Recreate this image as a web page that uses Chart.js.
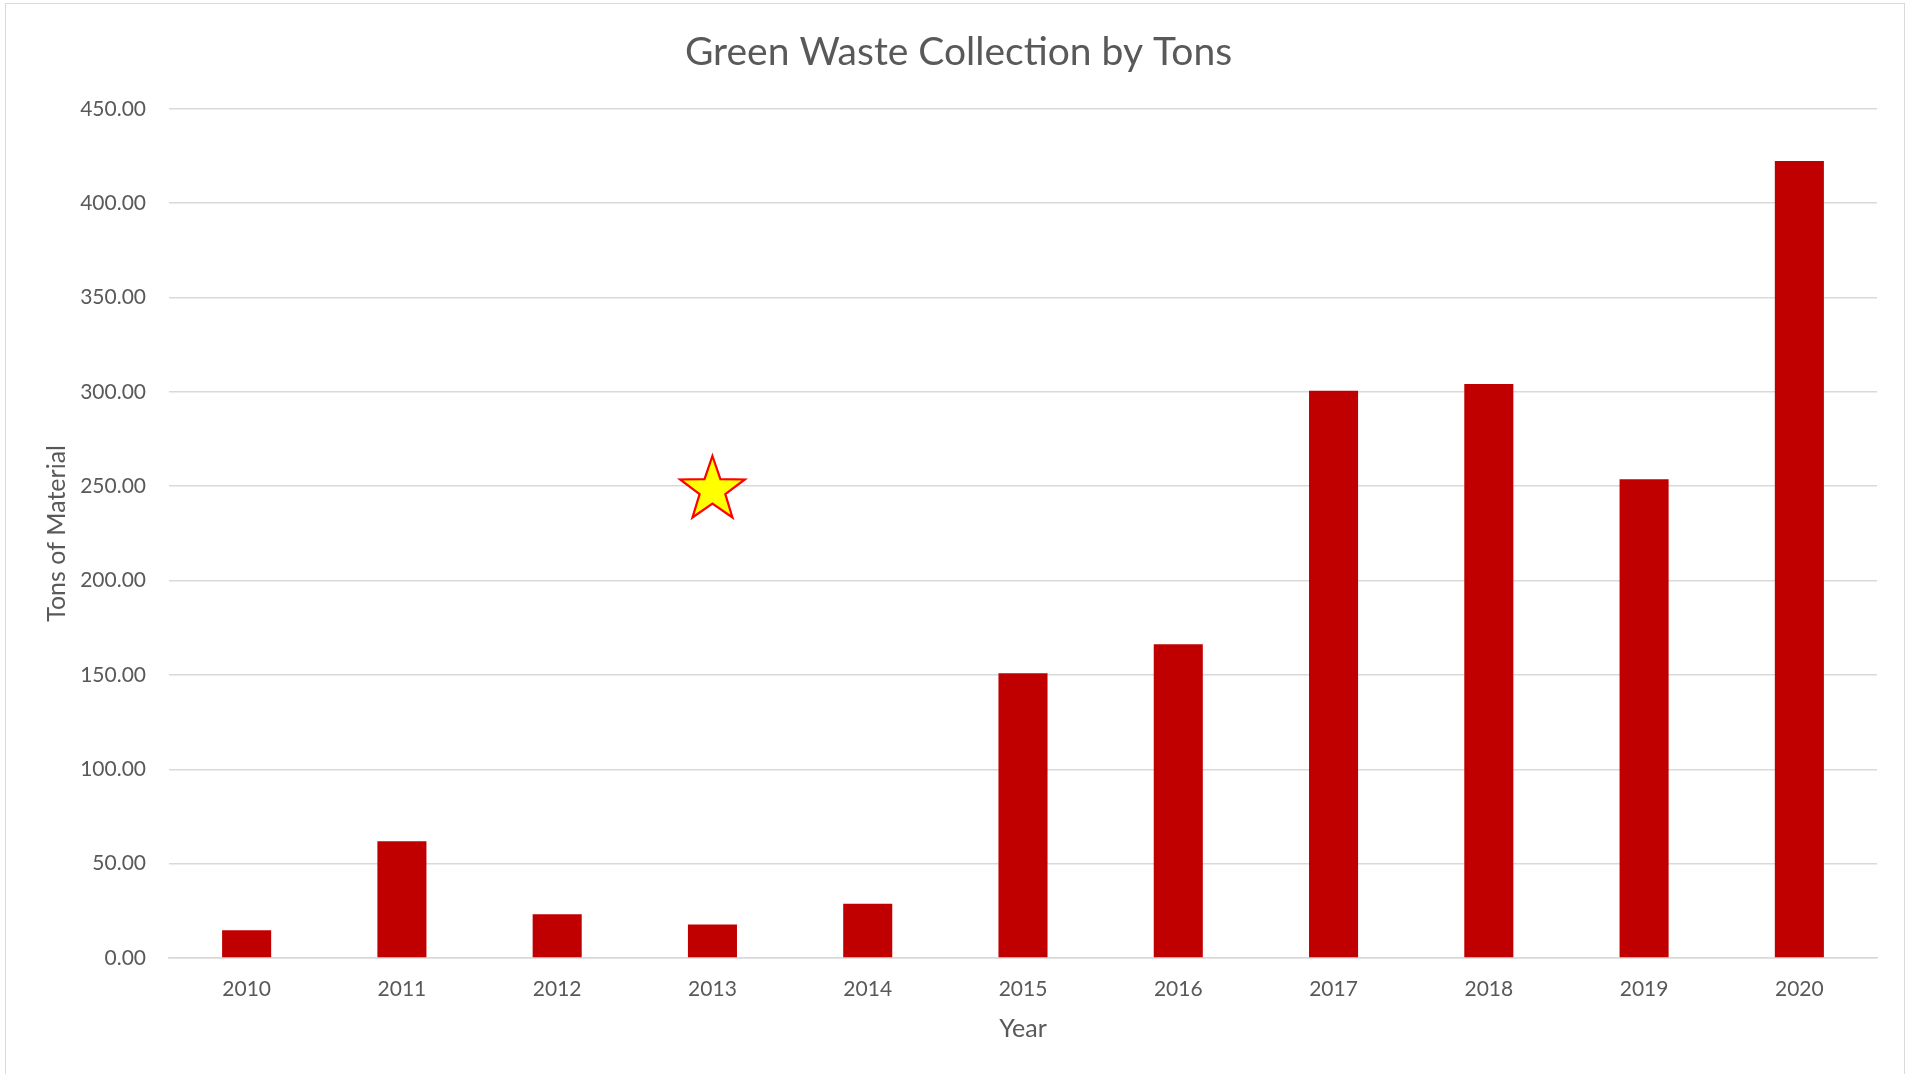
<!DOCTYPE html>
<html>
<head>
<meta charset="utf-8">
<title>Green Waste Collection by Tons</title>
<script src="https://cdn.jsdelivr.net/npm/chart.js@4.4.0/dist/chart.umd.min.js"></script>
<style>
    html, body { margin: 0; padding: 0; background: #fff; overflow: hidden; }
    #wrap { position: relative; width: 1917px; height: 1074px; }
    #frame {
        position: absolute; left: 5px; top: 3px; width: 1900px; height: 1090px;
        border: 1px solid #d9d9d9; box-sizing: border-box; pointer-events: none;
    }
    #chart { position: absolute; left: 0; top: 0; }
</style>
</head>
<body>
<div id="wrap">
    <canvas id="chart" width="1917" height="1074"></canvas>
    <div id="frame"></div>
</div>
<script>
// 数据
var years = ['2010', '2011', '2012', '2013', '2014', '2015', '2016', '2017', '2018', '2019', '2020'];
var tons = [14.7, 61.9, 23.2, 17.7, 28.8, 150.9, 166.2, 300.6, 304.2, 253.7, 422.3];
var yTicks = [0, 50, 100, 150, 200, 250, 300, 350, 400, 450];
// 星形标记 (类别, 数值)
var starMark = ['2013', 248];

/**
 * 星形标记插件
 */
var starPlugin = {
    id: 'starMark',
    afterDatasetsDraw: function (chart) {
        var ctx = chart.ctx;
        var cx = chart.scales.x.getPixelForValue(years.indexOf(starMark[0]));
        var cy = chart.scales.y.getPixelForValue(starMark[1]);
        var outer = 34, inner = 13.5;
        ctx.save();
        ctx.beginPath();
        for (var i = 0; i < 10; i++) {
            var r = i % 2 === 0 ? outer : inner;
            var a = -Math.PI / 2 + i * Math.PI / 5;
            var px = cx + r * Math.cos(a);
            var py = cy + r * Math.sin(a);
            if (i === 0) ctx.moveTo(px, py); else ctx.lineTo(px, py);
        }
        ctx.closePath();
        ctx.fillStyle = '#ffff00';
        ctx.fill();
        ctx.lineWidth = 2.2;
        ctx.strokeStyle = '#ff0000';
        ctx.stroke();
        ctx.restore();
    }
};

function init() {
    Chart.defaults.font.family = 'Lato';
    Chart.defaults.color = '#595959';

    var ctx = document.getElementById('chart').getContext('2d');
    new Chart(ctx, {
        type: 'bar',
        data: {
            labels: years,
            datasets: [{
                label: 'Tons',
                data: tons,
                backgroundColor: '#c00000',
                borderWidth: 0,
                categoryPercentage: 1,
                barPercentage: 0.316
            }]
        },
        options: {
            responsive: false,
            animation: false,
            layout: { padding: 0 },
            plugins: {
                legend: { display: false },
                tooltip: { enabled: false },
                title: {
                    display: true,
                    text: 'Green Waste Collection by Tons',
                    color: '#595959',
                    font: { size: 39, weight: 'normal' },
                    padding: { top: 29, bottom: 33 }
                }
            },
            scales: {
                x: {
                    grid: { display: false, drawTicks: false },
                    border: { display: true, color: '#d9d9d9', width: 1.5 },
                    ticks: { padding: 19, font: { size: 21 }, color: '#595959' },
                    title: {
                        display: true, text: 'Year', color: '#595959',
                        font: { size: 25 }, padding: { top: 0, bottom: 30 }
                    },
                    afterFit: function (scale) { scale.height = 116; }
                },
                y: {
                    min: 0,
                    max: 450,
                    afterBuildTicks: function (scale) {
                        scale.ticks = yTicks.map(function (v) { return { value: v }; });
                    },
                    grid: { color: '#d9d9d9', lineWidth: 1.5, drawTicks: false },
                    border: { display: false },
                    ticks: {
                        padding: 23,
                        font: { size: 21 },
                        color: '#595959',
                        callback: function (v) { return Number(v).toFixed(2); }
                    },
                    title: {
                        display: true, text: 'Tons of Material', color: '#595959',
                        font: { size: 25 }, padding: { top: 42, bottom: 0 }
                    },
                    afterFit: function (scale) { scale.width = 169; }
                },
                // 右侧留白
                yRight: {
                    position: 'right',
                    min: 0,
                    max: 450,
                    grid: { display: false, drawTicks: false },
                    border: { display: false },
                    ticks: { display: false },
                    afterFit: function (scale) { scale.width = 40; }
                }
            }
        },
        plugins: [starPlugin]
    });
}

init();
</script>
</body>
</html>
